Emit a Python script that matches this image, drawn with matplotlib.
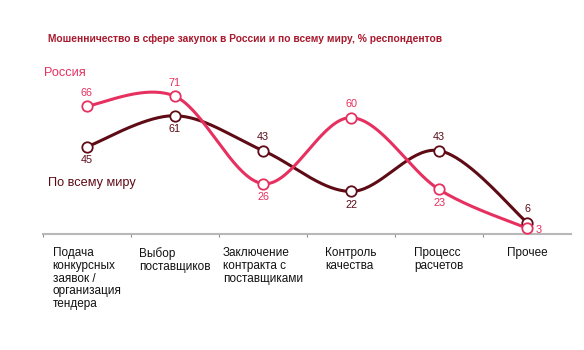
import matplotlib.pyplot as plt
import numpy as np

categories = ['Подача\nконкурсных\nзаявок /\nорганизация\nтендера',
              'Выбор\nпоставщиков',
              'Заключение\nконтракта с\nпоставщиками',
              'Контроль\nкачества',
              'Процесс\nрасчетов',
              'Прочее']
russia = [66, 71, 26, 60, 23, 3]
world = [45, 61, 43, 22, 43, 6]

# смещение подписей значений: 1 = сверху, -1 = снизу, 0 = справа
russia_pos = [1, 1, -1, 1, -1, 0]
world_pos = [-1, -1, 1, -1, 1, 1]

RU = '#e6305f'
WD = '#5e0b16'
TITLE = '#a8192e'

plt.rcParams['font.family'] = ['Liberation Sans', 'DejaVu Sans']


def catmull(x, y, n=40):
    # сглаживание линии (Catmull-Rom)
    x = np.asarray(x, float)
    y = np.asarray(y, float)
    px = np.concatenate([[x[0]], x, [x[-1]]])
    py = np.concatenate([[y[0]], y, [y[-1]]])
    xs, ys = [], []
    for i in range(1, len(px) - 2):
        t = np.linspace(0, 1, n)
        p0, p1, p2, p3 = py[i - 1], py[i], py[i + 1], py[i + 2]
        q0, q1, q2, q3 = px[i - 1], px[i], px[i + 1], px[i + 2]
        m1 = (p2 - p0) / 2
        m2 = (p3 - p1) / 2
        n1 = (q2 - q0) / 2
        n2 = (q3 - q1) / 2
        h00 = 2 * t**3 - 3 * t**2 + 1
        h10 = t**3 - 2 * t**2 + t
        h01 = -2 * t**3 + 3 * t**2
        h11 = t**3 - t**2
        ys.append(h00 * p1 + h10 * m1 + h01 * p2 + h11 * m2)
        xs.append(h00 * q1 + h10 * n1 + h01 * q2 + h11 * n2)
    return np.concatenate(xs), np.concatenate(ys)


fig = plt.figure(figsize=(5.84, 3.5), dpi=100)
ax = fig.add_axes([0.0736, 0.331, 0.9044, 0.4976])
x = np.arange(len(categories))

for vals, col, pos in [(world, WD, world_pos), (russia, RU, russia_pos)]:
    cx, cy = catmull(x, vals)
    ax.plot(cx, cy, color=col, lw=2.2, solid_capstyle='round', zorder=2)
    ax.plot(x, vals, 'o', ms=7.5, mfc='white', mec=col, mew=1.3, zorder=3)
    for xi, v, p in zip(x, vals, pos):
        if p == 0:
            ax.annotate(str(v), (xi, v), xytext=(6, -1.5), textcoords='offset points',
                        ha='left', va='center', fontsize=7.8, color=col)
        else:
            ax.annotate(str(v), (xi, v), xytext=(0, 9.5 * p), textcoords='offset points',
                        ha='center', va='center', fontsize=7.8, color=col)

ax.set_xlim(-0.5, 5.5)
ax.set_ylim(0, 89.7)
for s in ['top', 'right', 'left']:
    ax.spines[s].set_visible(False)
ax.spines['bottom'].set_color('#b8b8b8')
ax.spines['bottom'].set_linewidth(1.5)
ax.set_yticks([])
ax.set_xticks(np.arange(-0.5, 5.5, 1))
ax.tick_params(axis='x', length=2, color='#8090a0', labelbottom=False)

for xi, lab in zip(x, categories):
    ax.text(xi, -6.5, lab, ha='center', va='top', multialignment='left',
            fontsize=8.5, linespacing=1.1, color='#111111')

fig.text(48 / 584, 1 - 39 / 350, 'Мошенничество в сфере закупок в России и по всему миру, % респондентов',
         fontsize=7.4, fontweight='bold', color=TITLE, va='center', ha='left')
fig.text(44 / 584, 1 - 73 / 350, 'Россия', fontsize=9.2, color=RU, va='center', ha='left')
fig.text(48 / 584, 1 - 183 / 350, 'По всему миру', fontsize=9.2, color=WD, va='center', ha='left')

fig.savefig('out.png', dpi=100)
